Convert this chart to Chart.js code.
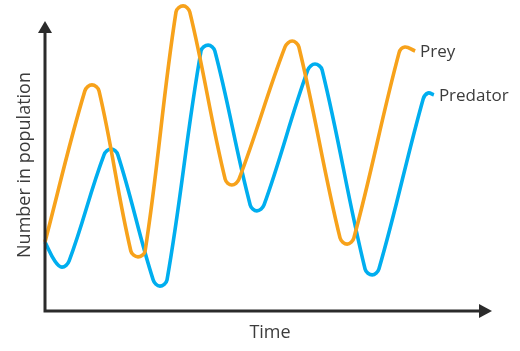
<!DOCTYPE html>
<html>
<head>
<meta charset="utf-8">
<script src="https://cdn.jsdelivr.net/npm/chart.js@4/dist/chart.umd.min.js"></script>
<style>
    body { margin: 0; background: #fff; }
    #wrap { width: 520px; height: 351px; position: relative; }
</style>
</head>
<body>
<div id="wrap"><canvas id="popChart"></canvas></div>
<script>
// Values (time 0-100, population 0-100, the axes carry no units)
// every turning point is given as shoulder, top/bottom, shoulder
const preyTime = [0, 8.9, 10.5, 12.1, 19.2, 20.8, 22.4, 29.3, 30.9, 32.4, 40.3, 41.8, 43.4,
    53.7, 55.3, 56.8, 66.0, 67.6, 69.1, 79.2, 80.5, 82.8];
const preyCount = [22.2, 70.7, 72.7, 70.7, 19.3, 17.4, 19.3, 96.1, 98.1, 96.1, 42.4, 40.5, 42.4,
    84.9, 86.8, 84.9, 23.5, 21.5, 23.5, 83.0, 84.9, 83.6];

const predatorTime = [0, 2.2, 3.8, 5.4, 13.2, 14.8, 16.3, 24.2, 25.7, 27.3, 34.9, 36.5, 38.0,
    45.9, 47.4, 49.0, 58.8, 60.4, 62.0, 71.6, 73.2, 74.7, 84.6, 85.7, 87.0];
const predatorCount = [22.2, 16.1, 14.1, 16.1, 50.2, 52.1, 50.2, 10.0, 8.0, 10.0, 83.6, 85.5, 83.6,
    34.1, 32.2, 34.1, 77.5, 79.4, 77.5, 13.5, 11.6, 13.5, 68.2, 70.1, 69.5];

const seriesLabels = ['Prey', 'Predator'];
const seriesColors = ['#F7A21B', '#00AEEF'];
const xTitle = 'Time';
const yTitle = 'Number in population';

const toPoints = (xs, ys) => xs.map((x, i) => ({ x: x, y: ys[i] }));

const textColor = '#3c3c3c';
const axisColor = '#2b2b2b';

// axes with arrow heads, axis titles and the series names at the line ends
const decorations = {
    id: 'decorations',
    afterDatasetsDraw(chart) {
        const ctx = chart.ctx;
        const area = chart.chartArea;
        const x0 = area.left;
        const y0 = area.bottom;

        ctx.save();
        ctx.strokeStyle = axisColor;
        ctx.fillStyle = axisColor;
        ctx.lineWidth = 3;

        ctx.beginPath();
        ctx.moveTo(x0, y0 + 1.5);
        ctx.lineTo(x0, 33);
        ctx.moveTo(x0 - 1.5, y0);
        ctx.lineTo(area.right - 13, y0);
        ctx.stroke();

        // arrow up
        ctx.beginPath();
        ctx.moveTo(x0 - 7, 33);
        ctx.lineTo(x0 + 7, 33);
        ctx.lineTo(x0, 21);
        ctx.closePath();
        ctx.fill();

        // arrow right
        ctx.beginPath();
        ctx.moveTo(area.right - 13, y0 - 7);
        ctx.lineTo(area.right - 13, y0 + 7);
        ctx.lineTo(area.right, y0);
        ctx.closePath();
        ctx.fill();

        ctx.fillStyle = textColor;
        ctx.font = '18px "Open Sans"';
        ctx.textAlign = 'center';
        ctx.textBaseline = 'alphabetic';
        ctx.fillText(xTitle, 270, 338);

        ctx.save();
        ctx.translate(30, 165);
        ctx.rotate(-Math.PI / 2);
        ctx.fillText(yTitle, 0, 0);
        ctx.restore();

        ctx.font = '17px "Open Sans"';
        ctx.textAlign = 'left';
        chart.data.datasets.forEach((ds, i) => {
            const pts = chart.getDatasetMeta(i).data;
            const last = pts[pts.length - 1];
            ctx.fillText(ds.label, last.x + 5, last.y + 6);
        });
        ctx.restore();
    }
};

new Chart(document.getElementById('popChart'), {
    type: 'line',
    data: {
        datasets: [
            {
                label: seriesLabels[0],
                data: toPoints(preyTime, preyCount),
                borderColor: seriesColors[0],
                borderWidth: 3.6,
                tension: 0.38,
                pointRadius: 0,
                fill: false,
                clip: false
            },
            {
                label: seriesLabels[1],
                data: toPoints(predatorTime, predatorCount),
                borderColor: seriesColors[1],
                borderWidth: 3.6,
                tension: 0.38,
                pointRadius: 0,
                fill: false,
                clip: false
            }
        ]
    },
    options: {
        responsive: true,
        maintainAspectRatio: false,
        animation: false,
        layout: {
            padding: { left: 45, right: 28, top: 0, bottom: 40 }
        },
        scales: {
            x: { type: 'linear', min: 0, max: 100, display: false },
            y: { min: 0, max: 100, display: false }
        },
        plugins: {
            legend: { display: false },
            tooltip: { enabled: false }
        },
        events: []
    },
    plugins: [decorations]
});
</script>
</body>
</html>
